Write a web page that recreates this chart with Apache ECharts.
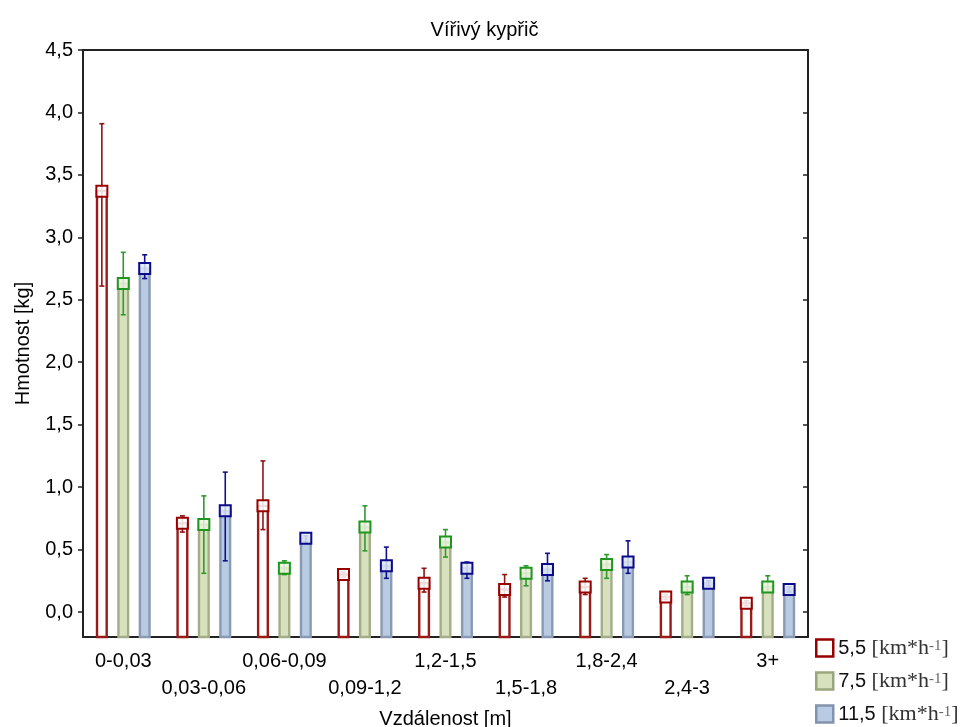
<!DOCTYPE html>
<html><head><meta charset="utf-8">
<script src="https://cdn.jsdelivr.net/npm/echarts@6/dist/echarts.min.js"></script>
<style>html,body{margin:0;padding:0;background:#fff}#c{width:969px;height:727px}</style>
</head><body><div id="c"></div>
<script>
const categories = ['0-0,03','0,03-0,06','0,06-0,09','0,09-1,2','1,2-1,5','1,5-1,8','1,8-2,4','2,4-3','3+'];
const speeds = ['5,5','7,5','11,5'];
const yTicks = [0,0.5,1,1.5,2,2.5,3,3.5,4,4.5];
const mean55 = [3.37,0.71,0.85,0.30,0.23,0.18,0.20,0.12,0.07];
const low55  = [2.61,0.64,0.66,0.28,0.16,0.12,0.14,0.10,0.05];
const high55 = [3.91,0.77,1.21,0.32,0.35,0.30,0.27,0.14,0.09];
const mean75 = [2.63,0.70,0.35,0.68,0.56,0.31,0.38,0.20,0.20];
const low75  = [2.38,0.31,0.30,0.49,0.44,0.21,0.27,0.14,0.16];
const high75 = [2.88,0.93,0.41,0.85,0.66,0.37,0.46,0.29,0.29];
const mean115 = [2.75,0.81,0.59,0.37,0.35,0.34,0.40,0.23,0.18];
const low115  = [2.67,0.41,0.56,0.27,0.27,0.25,0.31,0.21,0.16];
const high115 = [2.86,1.12,0.61,0.52,0.40,0.47,0.57,0.25,0.20];

const Y_MIN = -0.2, Y_MAX = 4.5;
const styles = [
  {barFill:'#ffffff', barStroke:'#9a1a1a', err:'#8e1414', mark:'#990000', markFill:'rgba(255,255,255,0.85)', legBorder:'#990000'},
  {barFill:'#d7e1bd', barStroke:'#a3ae88', err:'#2f9a2f', mark:'#1f961f', markFill:'rgba(236,242,222,0.85)', legBorder:'#9aa67e'},
  {barFill:'#b9cbe3', barStroke:'#8a9ab3', err:'#10108c', mark:'#0a0a8a', markFill:'rgba(222,232,246,0.85)', legBorder:'#8193ad'}
];
const groups = [[mean55,low55,high55],[mean75,low75,high75],[mean115,low115,high115]];

function makeSeries(s){
  const [m,lo,hi] = groups[s];
  const st = styles[s];
  return {
    type:'custom', name:speeds[s], xAxisIndex:0, yAxisIndex:0,
    itemStyle:{color:st.barFill, borderColor:st.barStroke},
    data: categories.map((c,i)=>[i,m[i],lo[i],hi[i]]),
    renderItem:function(params, api){
      const ci = api.value(0);
      const band = api.size([1,0])[0];
      const cx = api.coord([ci,0])[0] + (s-1)*band*0.266;
      const bw = band*0.12;
      const yBase = api.coord([ci,Y_MIN])[1];
      const yV = api.coord([ci,api.value(1)])[1];
      const yLo = api.coord([ci,api.value(2)])[1];
      const yHi = api.coord([ci,api.value(3)])[1];
      const cap = 2.5, ms = 5.5;
      return {type:'group', children:[
        {type:'rect', shape:{x:cx-bw/2, y:yV, width:bw, height:yBase-yV},
         style:{fill:st.barFill, stroke:st.barStroke, lineWidth:2.4}},
        {type:'line', shape:{x1:cx,y1:yLo,x2:cx,y2:yHi}, style:{stroke:st.err, lineWidth:1.6}},
        {type:'line', shape:{x1:cx-cap,y1:yHi,x2:cx+cap,y2:yHi}, style:{stroke:st.err, lineWidth:1.6}},
        {type:'line', shape:{x1:cx-cap,y1:yLo,x2:cx+cap,y2:yLo}, style:{stroke:st.err, lineWidth:1.6}},
        {type:'rect', shape:{x:cx-ms, y:yV-ms, width:2*ms, height:2*ms},
         style:{fill:st.markFill, stroke:st.mark, lineWidth:2}}
      ]};
    }
  };
}

const chart = echarts.init(document.getElementById('c'), null, {renderer:'canvas'});
const axisLineStyle = {color:'#222', width:2};
const font = 'Liberation Sans';
chart.setOption({
  backgroundColor:'#fff',
  animation:false,
  title:{text:'Vířivý kypřič', left:'center', top:15,
    textStyle:{fontFamily:font, fontSize:20, fontWeight:'normal', color:'#000'}},
  grid:{left:83, right:161, top:50, bottom:90, containLabel:false, outerBoundsMode:'none'},
  legend:{
    orient:'vertical', left:815, top:637, height:100, itemWidth:17, itemHeight:17, itemGap:8,
    padding:0, icon:'rect', selectedMode:false,
    data: speeds.map((n,s)=>({name:n, itemStyle:{color:styles[s].barFill, borderColor:styles[s].legBorder, borderWidth:2.5}})),
    formatter: n => '{a|' + n + ' }{b|[km*h}{c|-1}{b|]}',
    textStyle:{rich:{
      a:{fontFamily:font, fontSize:20, color:'#111', lineHeight:18},
      b:{fontFamily:'Liberation Serif', fontSize:22, color:'#333', lineHeight:18},
      c:{fontFamily:'Liberation Serif', fontSize:15, color:'#666', verticalAlign:'top', lineHeight:14, padding:[0,0,8,0]}
    }}
  },
  xAxis:[
    {type:'category', data:categories, position:'bottom',
     name:'Vzdálenost [m]', nameLocation:'middle', nameGap:72,
     nameTextStyle:{fontFamily:font, fontSize:20, color:'#000'},
     axisLine:{onZero:false, lineStyle:axisLineStyle},
     axisTick:{alignWithLabel:true, inside:true, length:4, lineStyle:{color:'#222', width:1.5}},
     axisLabel:{interval:0, margin:11, fontFamily:font, fontSize:20, color:'#000', lineHeight:27,
       formatter:(v,i)=> (i%2 ? '\n'+v : v)}},
    {type:'category', data:categories, position:'top',
     axisLine:{onZero:false, lineStyle:axisLineStyle},
     axisTick:{alignWithLabel:true, inside:true, length:5, lineStyle:{color:'#222', width:1.5}},
     axisLabel:{show:false}}
  ],
  yAxis:[
    {type:'value', min:Y_MIN, max:Y_MAX, position:'left',
     name:'Hmotnost [kg]', nameLocation:'middle', nameGap:50, nameRotate:90,
     nameTextStyle:{fontFamily:font, fontSize:20, color:'#000'},
     axisLine:{show:true, onZero:false, lineStyle:axisLineStyle},
     splitLine:{show:false},
     axisTick:{show:true, length:5, customValues:yTicks, lineStyle:{color:'#222', width:1.5}},
     axisLabel:{margin:10, fontFamily:font, fontSize:20, color:'#000', customValues:yTicks,
       formatter:v=>v.toFixed(1).replace('.',',')}},
    {type:'value', min:Y_MIN, max:Y_MAX, position:'right',
     axisLine:{show:true, onZero:false, lineStyle:axisLineStyle},
     splitLine:{show:false},
     axisTick:{show:true, inside:true, length:5, customValues:yTicks, lineStyle:{color:'#222', width:1.5}},
     axisLabel:{show:false}}
  ],
  series:[makeSeries(0), makeSeries(1), makeSeries(2)]
});
</script></body></html>
